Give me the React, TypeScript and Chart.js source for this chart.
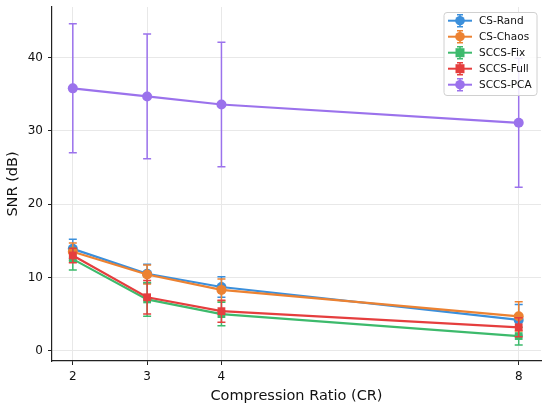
import { useRef, useEffect } from "react";
import { Chart, registerables, type ChartConfiguration, type Plugin } from "chart.js";

Chart.register(...registerables);

const compressionRatios = [2, 3, 4, 8];
const xTicks = [2, 3, 4, 8];
const yTicks = [0, 10, 20, 30, 40];

const seriesNames = ["CS-Rand", "CS-Chaos", "SCCS-Fix", "SCCS-Full", "SCCS-PCA"];
const seriesColors = ["#3b8fdb", "#ec8232", "#3dba6c", "#e53e3e", "#9b72ec"];
const seriesMarkers = ["circle", "circle", "rect", "rect", "circle"];

const csRandMean = [13.9, 10.5, 8.7, 4.2];
const csRandStd = [1.3, 1.3, 1.4, 2.1];
const csChaosMean = [13.5, 10.4, 8.3, 4.7];
const csChaosStd = [1.2, 1.3, 1.5, 2.0];
const sccsFixMean = [12.5, 7.0, 5.0, 2.0];
const sccsFixStd = [1.5, 2.3, 1.6, 1.2];
const sccsFullMean = [13.0, 7.3, 5.4, 3.2];
const sccsFullStd = [1.0, 2.3, 1.5, 1.3];
const sccsPcaMean = [35.8, 34.7, 33.6, 31.1];
const sccsPcaStd = [8.8, 8.5, 8.5, 8.8];

const means = [csRandMean, csChaosMean, sccsFixMean, sccsFullMean, sccsPcaMean];
const stds = [csRandStd, csChaosStd, sccsFixStd, sccsFullStd, sccsPcaStd];

const FONT = "'DejaVu Sans', sans-serif";

export default function App(): JSX.Element {
  const canvasRef = useRef<HTMLCanvasElement>(null);
  const chartRef = useRef<Chart | null>(null);

  useEffect(() => {
    document.body.style.margin = "0";
    const canvas = canvasRef.current;
    if (!canvas) return;

    // vertical error bars with caps, drawn just under each dataset's line
    const errorBarPlugin: Plugin = {
      id: "errorBars",
      beforeDatasetDraw(chart, args) {
        const { ctx: c, scales } = chart;
        const i = args.index;
        c.save();
        c.strokeStyle = seriesColors[i];
        c.lineWidth = 1.5;
        compressionRatios.forEach((x, j) => {
          const px = scales["x"].getPixelForValue(x);
          const lo = scales["y"].getPixelForValue(means[i][j] - stds[i][j]);
          const hi = scales["y"].getPixelForValue(means[i][j] + stds[i][j]);
          c.beginPath();
          c.moveTo(px, lo);
          c.lineTo(px, hi);
          c.moveTo(px - 4, lo);
          c.lineTo(px + 4, lo);
          c.moveTo(px - 4, hi);
          c.lineTo(px + 4, hi);
          c.stroke();
        });
        c.restore();
      },
    };

    const legendPlugin: Plugin = {
      id: "insideLegend",
      afterDraw(chart) {
        const c = chart.ctx;
        const x0 = 444;
        const y0 = 12.5;
        const w = 93;
        const h = 83;
        c.save();
        c.fillStyle = "rgba(255,255,255,0.85)";
        c.strokeStyle = "#d0d0d0";
        c.lineWidth = 1;
        c.beginPath();
        c.roundRect(x0, y0, w, h, 3);
        c.fill();
        c.stroke();
        c.font = `10.5px ${FONT}`;
        c.textBaseline = "middle";
        seriesNames.forEach((name, i) => {
          const y = y0 + 8.2 + i * 16;
          const color = seriesColors[i];
          c.strokeStyle = color;
          c.fillStyle = color;
          c.lineWidth = 2;
          c.beginPath();
          c.moveTo(x0 + 4, y);
          c.lineTo(x0 + 28, y);
          c.stroke();
          c.lineWidth = 1.5;
          c.beginPath();
          c.moveTo(x0 + 16, y - 6);
          c.lineTo(x0 + 16, y + 6);
          c.moveTo(x0 + 13, y - 6);
          c.lineTo(x0 + 19, y - 6);
          c.moveTo(x0 + 13, y + 6);
          c.lineTo(x0 + 19, y + 6);
          c.stroke();
          c.beginPath();
          if (seriesMarkers[i] === "rect") {
            c.rect(x0 + 11.5, y - 4.5, 9, 9);
          } else {
            c.arc(x0 + 16, y, 4.8, 0, Math.PI * 2);
          }
          c.fill();
          c.fillStyle = "#111";
          c.fillText(name, x0 + 35, y + 0.5);
        });
        c.restore();
      },
    };

    const config: ChartConfiguration = {
      type: "line",
      data: {
        datasets: seriesNames.map((name, i) => ({
          label: name,
          data: compressionRatios.map((x, j) => ({ x, y: means[i][j] })),
          borderColor: seriesColors[i],
          backgroundColor: seriesColors[i],
          borderWidth: 2.2,
          pointStyle: seriesMarkers[i] as "circle" | "rect",
          pointRadius: seriesMarkers[i] === "rect" ? 5.5 : 5,
          pointBorderWidth: 0,
          tension: 0,
          fill: false,
          order: seriesNames.length - i,
        })),
      },
      options: {
        responsive: false,
        animation: false,
        layout: { padding: { top: 7, right: 9, left: 0, bottom: 0 } },
        plugins: {
          legend: { display: false },
          tooltip: { enabled: false },
        },
        scales: {
          x: {
            type: "linear",
            min: 1.72,
            max: 8.3,
            afterBuildTicks: (scale) => {
              scale.ticks = xTicks.map((v) => ({ value: v }));
            },
            afterFit: (scale) => {
              scale.height = 47;
            },
            grid: { color: "#e8e8e8", lineWidth: 1, tickColor: "#222", tickLength: 4 },
            border: { color: "#222", width: 1.2 },
            ticks: {
              color: "#111",
              font: { family: FONT, size: 12 },
              padding: 5,
              maxRotation: 0,
              autoSkip: false,
            },
            title: {
              display: true,
              text: "Compression Ratio (CR)",
              color: "#111",
              font: { family: FONT, size: 14.5 },
              padding: { top: 0, bottom: 3 },
            },
          },
          y: {
            type: "linear",
            min: -1.4,
            max: 46.9,
            afterBuildTicks: (scale) => {
              scale.ticks = yTicks.map((v) => ({ value: v }));
            },
            afterFit: (scale) => {
              scale.width = 52;
              // let the layout padding alone decide the top of the plot
              scale.paddingTop = 0;
              scale.paddingBottom = 0;
            },
            grid: { color: "#e8e8e8", lineWidth: 1, tickColor: "#222", tickLength: 4 },
            border: { color: "#222", width: 1.2 },
            ticks: {
              color: "#111",
              font: { family: FONT, size: 12 },
              padding: 5,
            },
            title: {
              display: true,
              text: "SNR (dB)",
              color: "#111",
              font: { family: FONT, size: 14.5 },
              padding: { top: 5, bottom: 5 },
            },
          },
        },
      },
      plugins: [errorBarPlugin, legendPlugin],
    };

    Chart.getChart(canvas)?.destroy();
    chartRef.current = new Chart(canvas, config);

    return () => {
      chartRef.current?.destroy();
      chartRef.current = null;
    };
  }, []);

  return (
    <div style={{ width: 550, height: 408 }}>
      <canvas ref={canvasRef} width={550} height={408} />
    </div>
  );
}
